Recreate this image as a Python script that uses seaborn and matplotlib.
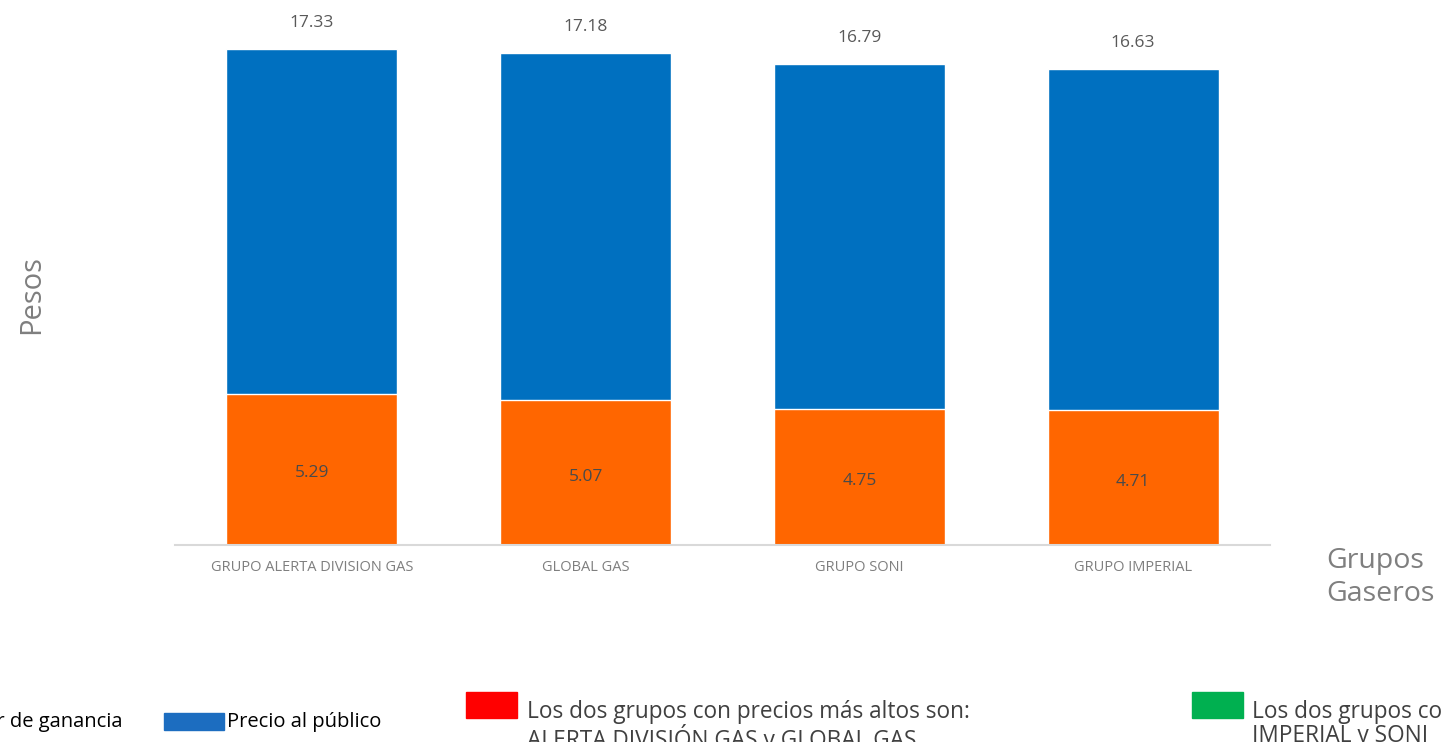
import matplotlib
matplotlib.use("Agg")
import matplotlib.pyplot as plt
import seaborn as sns
import pandas as pd
from matplotlib.patches import Rectangle

grupos = ["GRUPO ALERTA DIVISION GAS", "GLOBAL GAS", "GRUPO SONI", "GRUPO IMPERIAL"]
precio_publico = [17.33, 17.18, 16.79, 16.63]
margen_ganancia = [5.29, 5.07, 4.75, 4.71]

AZUL = "#0070C0"
NARANJA = "#FF6600"
GRIS = "#595959"

df = pd.DataFrame({"grupo": grupos, "precio": precio_publico, "margen": margen_ganancia})

sns.set_style("white")
plt.rcParams["font.family"] = ["Open Sans", "DejaVu Sans"]

W, H = 1443, 742
fig = plt.figure(figsize=(W / 100, H / 100), dpi=100)
ax = fig.add_axes([175 / W, 1 - 545 / H, (1270 - 175) / W, 545 / H])

# precio al publico detras, margen encima
sns.barplot(data=df, x="grupo", y="precio", color=AZUL, width=0.624,
            saturation=1, errorbar=None, ax=ax)
sns.barplot(data=df, x="grupo", y="margen", color=NARANJA, width=0.624,
            saturation=1, errorbar=None, ax=ax)

ax.set_xlim(-0.5, 3.5)
ax.set_ylim(0, 545 / 28.62)

for i, (p, m) in enumerate(zip(precio_publico, margen_ganancia)):
    ax.annotate(f"{p:.2f}", (i, p), xytext=(0, 19), textcoords="offset points",
                ha="center", va="center", fontsize=12.5, color=GRIS)
    ax.annotate(f"{m:.2f}", (i, m / 2), xytext=(0, -3), textcoords="offset points",
                ha="center", va="center", fontsize=12.5, color="#4a4a4a")

sns.despine(ax=ax, left=True)
ax.spines["bottom"].set_color("#D9D9D9")
ax.spines["bottom"].set_linewidth(1.5)
ax.set_yticks([])
ax.tick_params(axis="x", length=0, pad=11, labelsize=10.5, labelcolor="#7F7F7F")

ax.set_ylabel("Pesos", fontsize=21, color="#7F7F7F")
ax.yaxis.set_label_coords((46 - 175) / 1095, (545 - 295) / 545)
ax.set_xlabel("Grupos\nGaseros", fontsize=20.5, color="#7F7F7F", ha="left", va="top",
              linespacing=1.25)
ax.xaxis.set_label_coords((1326 - 175) / 1095, -0.003)

# leyenda y notas al pie
fig.text(123 / W, 1 - 722 / H, "Valor de ganancia", ha="right", va="center",
         fontsize=14.5, color="black")
fig.add_artist(Rectangle((164 / W, 1 - 730 / H), 60 / W, 17 / H,
                         transform=fig.transFigure, color="#1C6DC0"))
fig.text(227 / W, 1 - 722 / H, "Precio al público", ha="left", va="center",
         fontsize=14.5, color="black")

fig.add_artist(Rectangle((466 / W, 1 - 718 / H), 51 / W, 26 / H,
                         transform=fig.transFigure, color="#FF0000"))
fig.text(527 / W, 1 - 700 / H,
         "Los dos grupos con precios más altos son:\nALERTA DIVISIÓN GAS y GLOBAL GAS",
         ha="left", va="top", fontsize=16.3, color="#404040", linespacing=1.0)

fig.add_artist(Rectangle((1192 / W, 1 - 718 / H), 51 / W, 26 / H,
                         transform=fig.transFigure, color="#00B050"))
fig.text(1252 / W, 1 - 700 / H,
         "Los dos grupos con precios más bajos son:\nIMPERIAL y SONI",
         ha="left", va="top", fontsize=16.3, color="#404040", linespacing=1.0)

fig.savefig("out.png", dpi=100)
